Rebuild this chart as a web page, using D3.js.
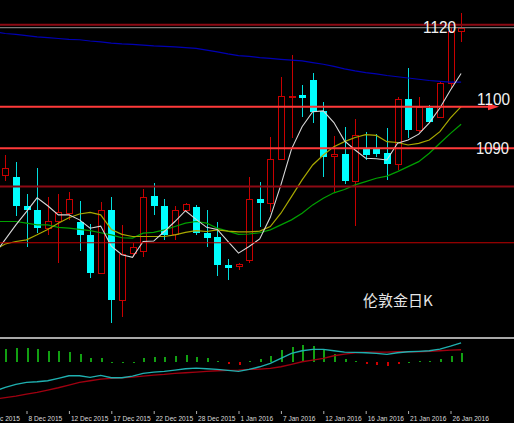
<!DOCTYPE html>
<html><head><meta charset="utf-8">
<script src="https://cdn.jsdelivr.net/npm/d3@7"></script>
<style>html,body{margin:0;padding:0;background:#000;overflow:hidden}svg{display:block}</style>
</head><body>
<svg id="chart" width="514" height="423"></svg>
<script>
// ---- data (London gold daily, index 0..43) ----
const opens  = [1083.6,1083.2,1076.2,1075.2,1070.9,1072.5,1074.6,1072.2,1069.2,1060.0,1075.2,1053.5,1064.8,1065.3,1078.6,1076.1,1069.4,1075.2,1075.8,1069.6,1068.6,1061.9,1061.5,1063.1,1077.7,1076.9,1087.4,1102.4,1102.7,1106.4,1099.0,1088.0,1088.6,1082.2,1089.8,1089.8,1088.9,1086.2,1101.8,1094.4,1099.6,1097.6,1105.8,1118.2];
const highs  = [1088.4,1086.6,1079.0,1085.2,1078.2,1078.9,1079.6,1077.4,1071.7,1077.0,1078.2,1071.6,1067.2,1080.1,1081.6,1077.7,1076.1,1076.8,1076.4,1075.2,1072.4,1063.5,1062.5,1083.2,1081.9,1092.6,1107.2,1112.4,1105.2,1108.0,1101.2,1093.0,1095.2,1097.0,1094.0,1093.4,1094.9,1102.4,1109.2,1102.4,1100.4,1106.0,1118.9,1122.5];
const lows   = [1082.2,1073.7,1066.3,1069.6,1069.2,1062.4,1072.8,1065.4,1058.8,1059.8,1047.9,1049.5,1063.9,1063.9,1074.0,1068.0,1068.0,1074.8,1069.2,1066.3,1059.4,1058.3,1060.7,1062.4,1071.1,1074.8,1087.2,1092.4,1097.6,1096.0,1083.2,1079.6,1081.4,1071.3,1087.2,1087.9,1082.4,1084.8,1092.4,1094.0,1096.0,1097.5,1104.5,1115.6];
const closes = [1085.3,1076.2,1075.1,1070.9,1072.5,1074.6,1077.9,1069.2,1060.0,1075.1,1053.5,1064.5,1066.3,1078.4,1076.1,1069.2,1075.2,1076.6,1069.6,1068.4,1061.9,1061.3,1062.1,1077.7,1076.9,1087.4,1102.6,1102.5,1102.2,1098.8,1088.0,1088.6,1082.2,1093.2,1088.4,1088.6,1086.2,1101.8,1094.4,1099.9,1096.4,1105.8,1118.2,1119.0];

// moving averages, index -1..43
const maFast  = [1064.6,1068.1,1071.6,1074.8,1078.1,1076.2,1074.0,1074.0,1072.8,1070.8,1071.3,1066.5,1064.4,1063.8,1067.6,1067.7,1070.0,1072.4,1075.0,1072.9,1071.0,1070.5,1067.6,1064.8,1066.4,1068.2,1073.4,1081.2,1089.8,1095.2,1098.8,1099.0,1096.2,1091.8,1089.6,1087.6,1087.5,1087.2,1091.2,1092.0,1093.4,1096.1,1099.7,1104.0,1108.0];
const maMid   = [1065.6,1067.0,1067.6,1068.0,1069.2,1070.5,1072.0,1073.3,1074.2,1074.6,1074.0,1070.5,1069.3,1068.8,1068.8,1068.8,1068.8,1069.2,1069.8,1070.2,1070.0,1070.4,1070.1,1069.9,1069.9,1070.1,1071.2,1074.4,1078.4,1082.4,1086.0,1088.4,1090.4,1091.6,1092.6,1093.3,1093.1,1091.6,1091.4,1090.8,1091.2,1092.0,1094.0,1097.3,1100.0];
const maSlow  = [1072.4,1072.4,1072.4,1072.0,1071.6,1071.6,1071.0,1070.8,1070.5,1070.2,1069.7,1069.2,1068.5,1068.4,1069.6,1069.8,1070.4,1071.2,1072.0,1072.4,1072.0,1070.8,1070.1,1069.3,1069.4,1069.7,1070.4,1071.6,1072.8,1074.4,1076.4,1078.0,1079.3,1080.1,1081.2,1082.0,1082.8,1083.3,1084.4,1085.6,1086.8,1088.8,1091.2,1093.6,1095.8];
const maLong  = [1118.0,1117.6,1117.4,1117.1,1116.8,1116.6,1116.4,1116.2,1116.1,1115.8,1115.6,1115.3,1115.1,1115.0,1114.8,1114.6,1114.5,1114.4,1114.2,1114.0,1113.6,1113.2,1112.7,1112.3,1112.1,1111.8,1111.6,1111.4,1111.2,1111.0,1110.6,1110.2,1109.7,1109.1,1108.6,1108.2,1107.9,1107.5,1107.2,1106.9,1106.6,1106.3,1106.1,1105.9,1105.9];

// MACD panel, index -1..43 for lines, 0..43 for histogram
const macdDif  = [-7.2,-6.25,-5.5,-5.0,-4.85,-4.6,-4.0,-3.35,-3.35,-3.75,-3.25,-3.85,-3.85,-3.43,-2.75,-2.43,-2.25,-1.93,-1.6,-1.43,-1.6,-1.75,-2.0,-2.25,-1.75,-1.1,-0.25,1.0,2.25,2.9,3.25,3.25,2.9,2.58,2.5,2.4,2.25,2.0,2.4,2.65,2.75,2.9,3.33,4.08,4.9];
const macdDea  = [-9.2,-8.8,-8.43,-7.93,-7.5,-6.93,-6.35,-5.68,-5.0,-4.6,-4.18,-4.0,-3.85,-3.68,-3.43,-3.18,-3.0,-2.75,-2.6,-2.43,-2.25,-2.1,-2.0,-1.93,-1.75,-1.68,-1.5,-1.1,-0.5,0.15,0.58,1.0,1.65,2.08,2.4,2.58,2.58,2.58,2.65,2.65,2.65,2.75,2.9,3.08,3.15];
const macdHist = [3.3,3.65,3.65,3.3,2.9,2.8,2.6,2.0,1.0,1.15,0.15,0.08,0.15,1.0,1.4,1.4,1.65,1.8,1.4,1.15,0.33,-0.35,-0.6,0.4,0.8,1.6,3.1,3.9,4.3,4.1,3.1,2.1,0.75,0.33,-0.5,-0.7,-0.9,-0.35,0.15,0.33,0.4,0.8,1.6,2.25];

// date axis
const tickIndex  = [-2,2,6,10,14,18,22,26,30,34,38,42];
const tickLabels = ["3 Dec 2015","8 Dec 2015","12 Dec 2015","17 Dec 2015","22 Dec 2015","28 Dec 2015","1 Jan 2016","7 Jan 2016","12 Jan 2016","16 Jan 2016","21 Jan 2016","26 Jan 2016"];

// horizontal levels
const levelValues = [1119.7, 1100, 1090, 1080.8, 1067.3];
const levelLabels = ["1120", "1100", "1090", null, null];
const chartTitle = "伦敦金日K";

// ---- drawing ----
const svg = d3.select("#chart");
svg.append("rect").attr("width",514).attr("height",423).attr("fill","#000");

const x = d3.scaleLinear().domain([0,43]).range([5.3,461.1]);
const y = d3.scaleLinear().domain([1044.88,1125.65]).range([336,0]);
const ym = d3.scaleLinear().domain([-12.4,5.6]).range([412,340]);

const defs = svg.append("defs");
defs.append("clipPath").attr("id","cMain").append("rect").attr("x",0).attr("y",0).attr("width",514).attr("height",336);
defs.append("clipPath").attr("id","cMacd").append("rect").attr("x",0).attr("y",340).attr("width",514).attr("height",72);

const main = svg.append("g").attr("clip-path","url(#cMain)");
const idx = d3.range(opens.length);

// candles
const RED = "#c80000", CYAN = "#00ffff";
const cg = main.append("g").attr("shape-rendering","crispEdges");
idx.forEach(i => {
  const up = closes[i] >= opens[i];
  const cx = Math.round(x(i)) + 0.5;
  const top = y(Math.max(opens[i], closes[i]));
  const bot = y(Math.min(opens[i], closes[i]));
  cg.append("line").attr("x1",cx).attr("x2",cx).attr("y1",y(highs[i])).attr("y2",y(lows[i]))
    .attr("stroke", up ? RED : "#00dede").attr("stroke-width",1);
  const h = Math.max(1, bot - top);
  if (up) {
    cg.append("rect").attr("x",cx-3).attr("y",Math.round(top)+0.5).attr("width",6).attr("height",Math.max(1,Math.round(h)))
      .attr("fill","#000").attr("stroke",RED).attr("stroke-width",1);
  } else {
    cg.append("rect").attr("x",cx-3.5).attr("y",top).attr("width",7).attr("height",h).attr("fill",CYAN);
  }
});

// moving averages
const lineGen = arr => d3.line().x((d,i)=>x(i-1)).y(d=>y(d))(arr);
main.append("path").attr("d",lineGen(maLong)).attr("fill","none").attr("stroke","#0000b4").attr("stroke-width",1.2);
main.append("path").attr("d",lineGen(maSlow)).attr("fill","none").attr("stroke","#00a000").attr("stroke-width",1.2);
main.append("path").attr("d",lineGen(maMid)).attr("fill","none").attr("stroke","#a8a800").attr("stroke-width",1.2);
main.append("path").attr("d",lineGen(maFast)).attr("fill","none").attr("stroke","#d8d8d8").attr("stroke-width",1.1);

// horizontal levels
const levelStyle = [
  {c:"#8c0a14", w:2, x2:514},
  {c:"#ff3a3a", w:2, x2:492},
  {c:"#ff3a3a", w:2, x2:514},
  {c:"#8c0a14", w:2, x2:514},
  {c:"#c00000", w:1.2, x2:514}
];
const lg = main.append("g");
levelValues.forEach((v,k)=>{
  lg.append("line").attr("x1",0).attr("x2",levelStyle[k].x2).attr("y1",y(v)).attr("y2",y(v))
    .attr("stroke",levelStyle[k].c).attr("stroke-width",levelStyle[k].w);
});
// arrowhead on 1100 line
const ya = y(levelValues[1]);
lg.append("path").attr("d",`M488,${ya-3.5}L499,${ya}L488,${ya+3.5}Z`).attr("fill","#ff3a3a");

// current price line (gray)
main.append("line").attr("x1",0).attr("x2",514).attr("y1",y(closes[closes.length-1])).attr("y2",y(closes[closes.length-1]))
  .attr("stroke","#787878").attr("stroke-width",1.2);

// level labels
const labPos = [{x:423,b:33},{x:477,b:105},{x:476,b:153.5}];
levelLabels.forEach((t,k)=>{
  if(!t) return;
  main.append("text").attr("x",labPos[k].x).attr("y",labPos[k].b).text(t)
    .attr("font-family","Liberation Sans, Arial, sans-serif").attr("font-size",16)
    .attr("textLength",33).attr("lengthAdjust","spacingAndGlyphs")
    .attr("fill","#f2f2f2");
});

// title
main.append("text").attr("x",363).attr("y",306).text(chartTitle)
  .attr("font-family","Noto Sans CJK SC, sans-serif").attr("font-size",15).attr("fill","#e6e6e6");

// separator
svg.append("rect").attr("x",0).attr("y",337).attr("width",514).attr("height",2).attr("fill","#a8a8a8");

// MACD panel
const mg = svg.append("g").attr("clip-path","url(#cMacd)");
mg.append("g").attr("shape-rendering","crispEdges").selectAll("rect").data(macdHist).join("rect")
  .attr("x",(d,i)=>Math.round(x(i))-0.5).attr("width",2)
  .attr("y",d=>Math.min(ym(d),ym(0))).attr("height",d=>Math.max(1,Math.abs(ym(d)-ym(0))))
  .attr("fill",d=>d>=0?"#12a012":"#d00000");
mg.append("path").attr("d",d3.line().x((d,i)=>x(i-1)).y(d=>ym(d))(macdDea)).attr("fill","none").attr("stroke","#a00010").attr("stroke-width",1.4);
mg.append("path").attr("d",d3.line().x((d,i)=>x(i-1)).y(d=>ym(d))(macdDif)).attr("fill","none").attr("stroke","#1fb0b0").attr("stroke-width",1.4);

// date axis
const axis = d3.axisBottom(x).tickValues(tickIndex).tickFormat((d,i)=>tickLabels[i]).tickSize(3).tickPadding(0);
const ag = svg.append("g").attr("transform","translate(0,411)").call(axis);
ag.select(".domain").remove();
ag.selectAll(".tick line").attr("stroke","#b0b0b0");
ag.selectAll(".tick text").attr("text-anchor","start").attr("dx",1.5).attr("y",10).attr("dy",0)
  .attr("fill","#dcdcdc").attr("font-size",6.6).attr("font-family","Liberation Sans, Arial, sans-serif");
</script>
</body></html>
